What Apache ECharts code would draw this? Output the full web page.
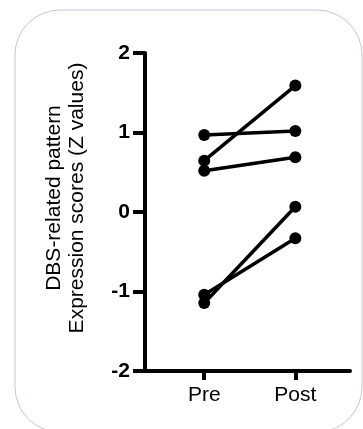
<!DOCTYPE html>
<html>
<head>
<meta charset="utf-8">
<script src="https://cdn.jsdelivr.net/npm/echarts@6/dist/echarts.min.js"></script>
<style>html,body{margin:0;padding:0;background:#fff;}#c{width:363px;height:429px;}</style>
</head>
<body>
<div id="c"></div>
<script>
var categories = ['Pre', 'Post'];
var preValues = [0.97, 0.645, 0.52, -1.145, -1.04];
var postValues = [1.02, 1.59, 0.69, 0.067, -0.33];
var yTicks = [-2, -1, 0, 1, 2];

var chart = echarts.init(document.getElementById('c'));
var series = preValues.map(function (p, i) {
  return {
    type: 'line',
    data: [[1, p], [2, postValues[i]]],
    symbol: 'circle',
    symbolSize: 12,
    lineStyle: { color: '#000', width: 3.5 },
    itemStyle: { color: '#000' },
    animation: false
  };
});
chart.setOption({
  animation: false,
  graphic: [{
    type: 'rect',
    shape: { x: 15, y: 10, width: 347, height: 422, r: 45 },
    style: { fill: 'none', stroke: '#c2c5da', lineWidth: 1 },
    z: -1
  }],
  grid: { left: 145, right: 13, top: 53, bottom: 58 },
  xAxis: {
    type: 'value',
    min: 0.35,
    max: 2.6,
    splitLine: { show: false },
    axisLine: { onZero: false, lineStyle: { color: '#000', width: 4 } },
    axisTick: { customValues: [1, 2], length: 9, lineStyle: { color: '#000', width: 4 } },
    axisLabel: {
      customValues: [1, 2],
      formatter: function (v) { return categories[Math.round(v) - 1]; },
      color: '#000', fontSize: 21, fontFamily: 'Liberation Sans, Arial', margin: 14
    }
  },
  yAxis: {
    type: 'value',
    min: yTicks[0],
    max: yTicks[yTicks.length - 1],
    interval: 1,
    splitLine: { show: false },
    axisLine: { onZero: false, lineStyle: { color: '#000', width: 4 } },
    axisTick: { length: 12, lineStyle: { color: '#000', width: 4 } },
    axisLabel: {
      color: '#000', fontSize: 21, fontWeight: 'bold', fontFamily: 'Liberation Sans, Arial', margin: 15
    },
    name: 'DBS-related pattern\nExpression scores (Z values)',
    nameLocation: 'middle',
    nameRotate: 90,
    nameGap: 56,
    nameTextStyle: {
      color: '#000', fontSize: 21, fontFamily: 'Liberation Sans, Arial', lineHeight: 23,
      padding: [0, 0, 0, 28]
    }
  },
  series: series
});
</script>
</body>
</html>
